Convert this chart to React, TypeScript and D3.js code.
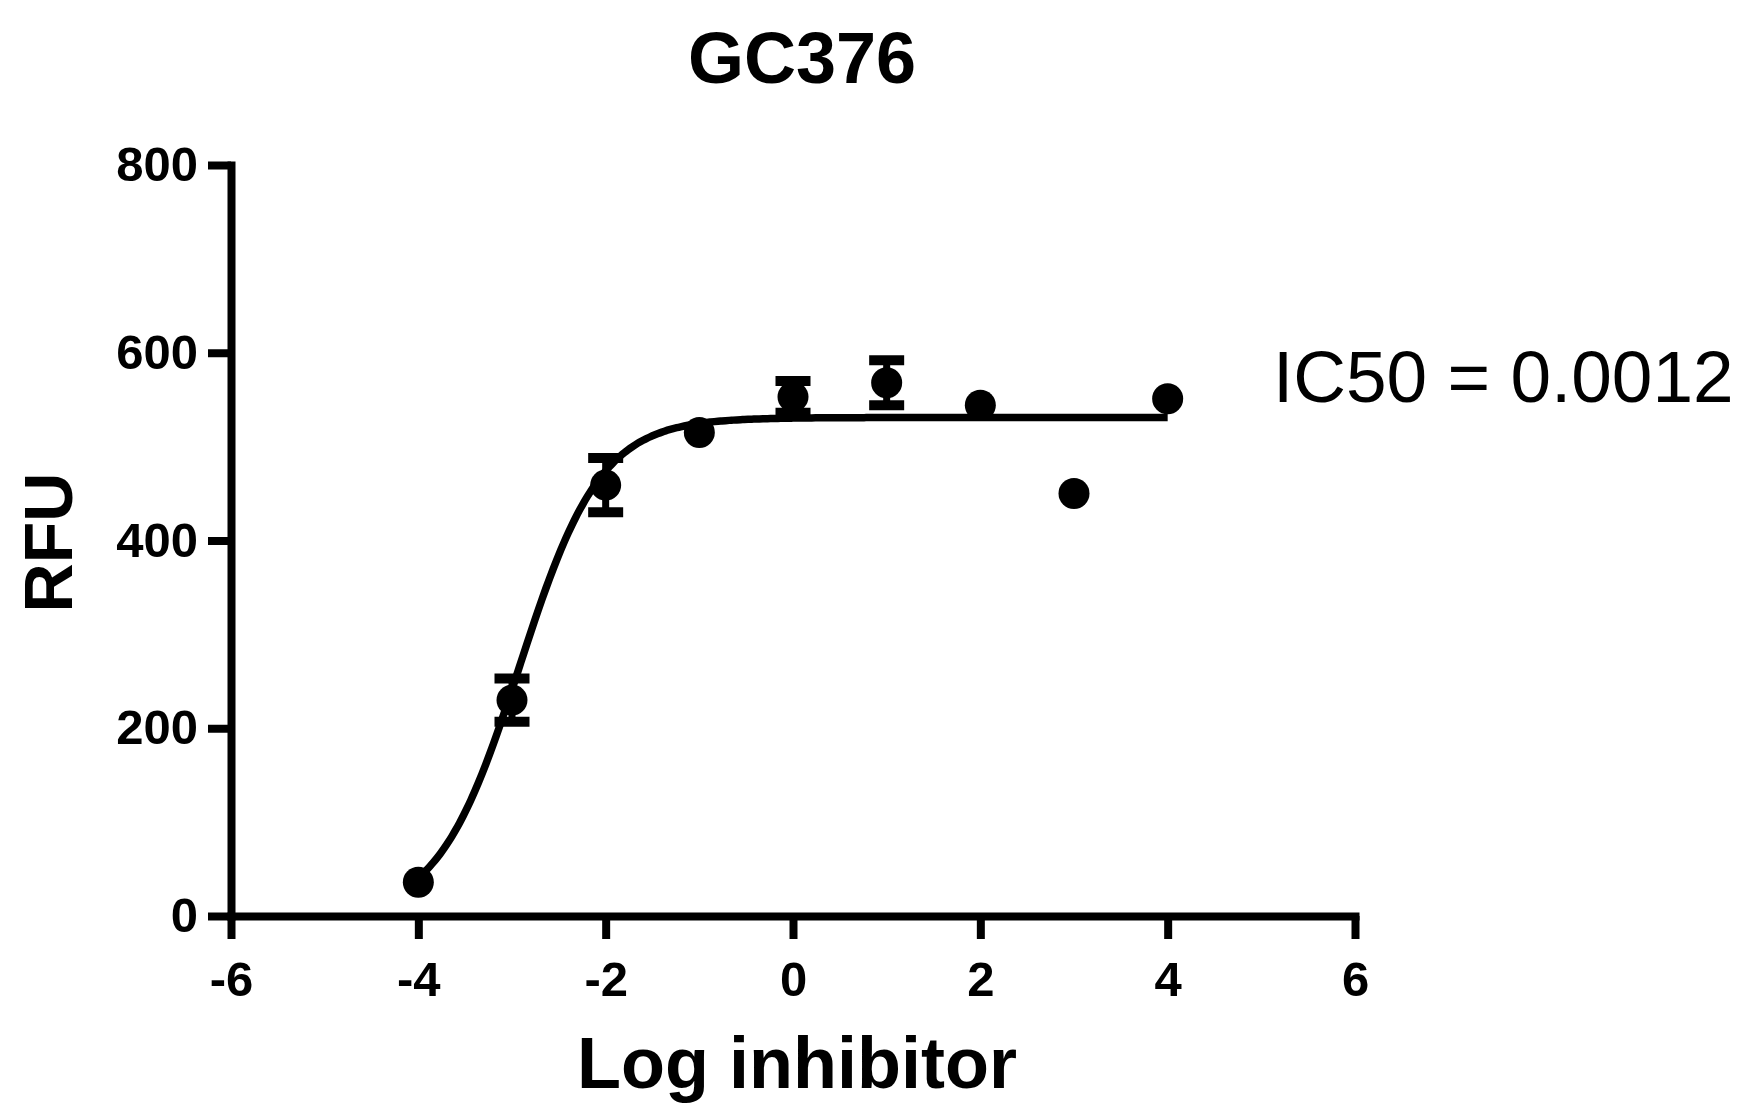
import { useRef, useEffect } from 'react';
import * as d3 from 'd3';

const WIDTH = 1742;
const HEIGHT = 1119;
const FONT = 'Arial, "Liberation Sans", Helvetica, sans-serif';

// measured points (log concentration vs RFU), SEM where shown
const logDose = [-4, -3, -2, -1, 0, 1, 2, 3, 4];
const rfu = [36, 230, 459, 515, 553, 568, 544, 450, 551];
const sem = [0, 23, 29, 0, 17, 24, 0, 0, 0];

// four-parameter logistic fit reported by the software
const FIT_TOP = 531;
const FIT_BOTTOM = 0;
const FIT_LOGIC50 = Math.log10(0.0012);
const FIT_HILL = 1;

const xTicks = [-6, -4, -2, 0, 2, 4, 6];
const yTicks = [0, 200, 400, 600, 800];

const PLOT = { left: 231, right: 1355, top: 165, bottom: 916 };

export default function App() {
  const svgRef = useRef<SVGSVGElement | null>(null);

  useEffect(() => {
    const svg = d3.select(svgRef.current);
    svg.selectAll('*').remove();

    const x = d3.scaleLinear().domain([-6, 6]).range([PLOT.left, PLOT.right]);
    const y = d3.scaleLinear().domain([0, 800]).range([PLOT.bottom, PLOT.top]);

    svg.append('rect').attr('width', WIDTH).attr('height', HEIGHT).attr('fill', '#fff');

    // axes
    const xAxis = svg.append('g').attr('transform', `translate(0,${PLOT.bottom})`)
      .call(d3.axisBottom(x).tickValues(xTicks).tickSize(23).tickSizeOuter(0).tickPadding(22)
        .tickFormat(d3.format('d')));
    const yAxis = svg.append('g').attr('transform', `translate(${PLOT.left},0)`)
      .call(d3.axisLeft(y).tickValues(yTicks).tickSize(23).tickSizeOuter(0).tickPadding(10)
        .tickFormat(d3.format('d')));

    [xAxis, yAxis].forEach(a => {
      a.select('.domain').attr('stroke', '#000').attr('stroke-width', 8)
        .attr('stroke-linecap', 'square');
      a.selectAll('.tick line').attr('stroke', '#000').attr('stroke-width', 8);
      a.selectAll('.tick text').attr('fill', '#000').attr('font-family', FONT)
        .attr('font-weight', 'bold').attr('font-size', 49);
    });
    xAxis.selectAll('.tick text').text((d: any) => (d < 0 ? '-' + Math.abs(d) : String(d)));

    // fitted curve
    const fit = (v: number) =>
      FIT_BOTTOM + (FIT_TOP - FIT_BOTTOM) / (1 + Math.pow(10, (FIT_LOGIC50 - v) * FIT_HILL));
    const curveX = d3.range(0, 201).map(i => -4 + (8 * i) / 200);
    svg.append('path')
      .datum(curveX)
      .attr('d', d3.line<number>().x(d => x(d)).y(d => y(fit(d))).curve(d3.curveMonotoneX))
      .attr('fill', 'none').attr('stroke', '#000').attr('stroke-width', 7.5);

    const pts = logDose.map((d, i) => ({ x: d, y: rfu[i], e: sem[i] }));

    // error bars
    const eb = svg.append('g');
    pts.filter(p => p.e > 0).forEach(p => {
      const cx = x(p.x);
      eb.append('line').attr('x1', cx).attr('x2', cx)
        .attr('y1', y(p.y + p.e)).attr('y2', y(p.y - p.e))
        .attr('stroke', '#000').attr('stroke-width', 7);
      [p.y + p.e, p.y - p.e].forEach(v => {
        eb.append('line').attr('x1', cx - 17.5).attr('x2', cx + 17.5)
          .attr('y1', y(v)).attr('y2', y(v))
          .attr('stroke', '#000').attr('stroke-width', 10);
      });
    });

    // points
    svg.append('g').selectAll('circle').data(pts).enter()
      .append('circle')
      .attr('cx', d => x(d.x)).attr('cy', d => y(d.y))
      .attr('r', 15.5).attr('fill', '#000');

    // titles
    svg.append('text').attr('x', 802).attr('y', 83).attr('text-anchor', 'middle')
      .attr('font-family', FONT).attr('font-weight', 'bold').attr('font-size', 72)
      .text('GC376');
    svg.append('text').attr('x', 797).attr('y', 1088).attr('text-anchor', 'middle')
      .attr('font-family', FONT).attr('font-weight', 'bold').attr('font-size', 72)
      .text('Log inhibitor');
    svg.append('text').attr('transform', `translate(72,${(PLOT.top + PLOT.bottom) / 2 + 2}) rotate(-90)`)
      .attr('text-anchor', 'middle')
      .attr('font-family', FONT).attr('font-weight', 'bold').attr('font-size', 68)
      .text('RFU');
    svg.append('text').attr('x', 1273).attr('y', 402)
      .attr('font-family', FONT).attr('font-size', 73)
      .text('IC50 = 0.0012');
  }, []);

  return (
    <svg ref={svgRef} width={WIDTH} height={HEIGHT}
      style={{ position: 'absolute', left: 0, top: 0, display: 'block' }} />
  );
}
